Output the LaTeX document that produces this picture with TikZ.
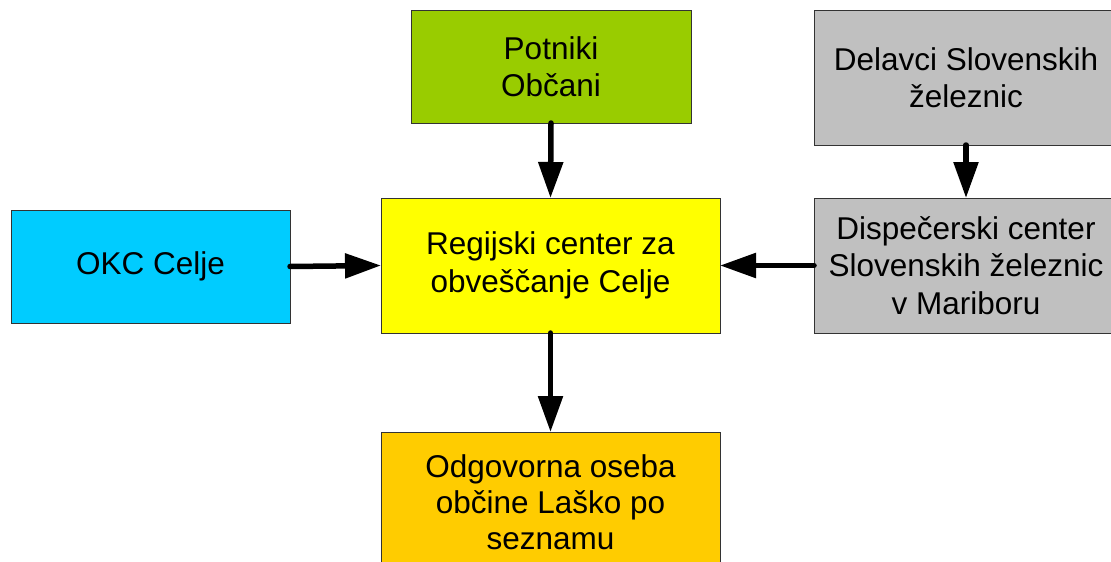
\documentclass[tikz,border=0pt]{standalone}
\usepackage{fontspec}
\setmainfont{Liberation Sans}
\usetikzlibrary{arrows.meta}
\definecolor{cgreen}{HTML}{99CC00}
\definecolor{cgrey}{HTML}{C0C0C0}
\definecolor{ccyan}{HTML}{00CCFF}
\definecolor{cyellow}{HTML}{FFFF00}
\definecolor{corange}{HTML}{FFCC00}
\definecolor{cborder}{HTML}{333333}
\tikzset{
  box/.style={draw=cborder, line width=1pt, rectangle, align=center, inner sep=0pt, outer sep=0pt,
    font=\fontsize{31.5}{37.5}\selectfont},
  conn/.style={line width=5.5pt, line cap=round, -{Triangle[length=36pt,width=24pt]}},
}
\begin{document}
\begin{tikzpicture}[x=1pt,y=-1pt]
\clip (0,0) rectangle (1111,562);
\fill[white] (0,0) rectangle (1111,562);
\node[box, fill=cgreen, minimum width=280pt, minimum height=113pt] (green) at (551,66.5) {Potniki\\Občani};
\node[box, fill=cgrey, minimum width=304pt, minimum height=135pt] (delavci) at (966,77.5) {Delavci Slovenskih\\železnic};
\node[box, fill=ccyan, minimum width=279pt, minimum height=113pt] (okc) at (150.5,266.5) {OKC Celje};
\node[box, fill=cyellow, minimum width=339pt, minimum height=135pt] (rc) at (550.5,265.5) {Regijski center za\\obveščanje Celje};
\node[box, fill=cgrey, minimum width=304pt, minimum height=135pt] (disp) at (966,265.5) {Dispečerski center\\Slovenskih železnic\\v Mariboru};
\node[box, fill=corange, minimum width=339pt, minimum height=140pt, font=\fontsize{31.5}{36}\selectfont] (odg) at (550.5,502) {Odgovorna oseba\\občine Laško po\\seznamu};
\draw[conn] (green.south) -- (rc.north);
\draw[conn] (delavci.south) -- (disp.north);
\draw[conn] (okc.east) -- (rc.west);
\draw[conn] (disp.west) -- (rc.east);
\draw[conn] (rc.south) -- (odg.north);
\end{tikzpicture}
\end{document}
